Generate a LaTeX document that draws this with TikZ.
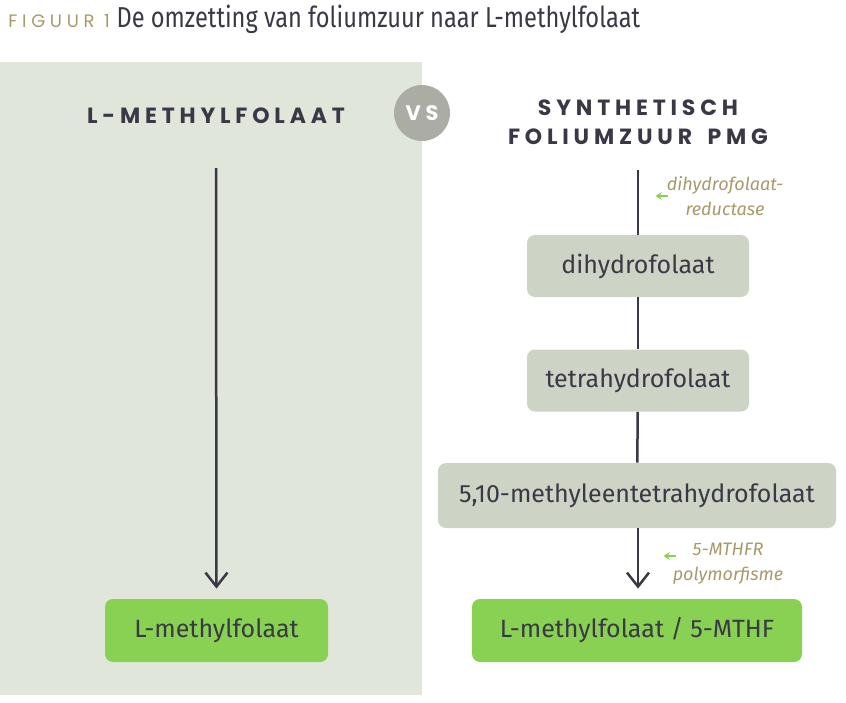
\documentclass[tikz,border=0pt]{standalone}
\usepackage{fontspec}
\setmainfont{Fira Sans}
\newfontfamily\headfont[LetterSpace=22]{Poppins}
\newfontfamily\figfont[LetterSpace=26]{Poppins}
\newfontfamily\titlefont[FakeStretch=0.82]{Fira Sans}
\usetikzlibrary{arrows.meta,positioning}

\definecolor{ink}{HTML}{3B3846}
\definecolor{gold}{HTML}{A8996A}
\definecolor{leaf}{HTML}{88D152}
\definecolor{panel}{HTML}{E1E6DB}
\definecolor{stepfill}{HTML}{CDD3C5}
\definecolor{vsgray}{HTML}{ABADA5}

\tikzset{
    stepbox/.style={fill=stepfill, rounded corners=4pt, text=ink,
        minimum width=111pt, minimum height=31pt, font=\fontsize{12.5}{14}\selectfont},
    endbox/.style={stepbox, fill=leaf, minimum height=31.5pt},
    header/.style={text=ink, align=center, font=\headfont\bfseries\fontsize{11}{14.5}\selectfont},
    enzyme/.style={text=gold, align=center, font=\itshape\fontsize{9}{12.5}\selectfont},
    flow/.style={draw=ink, line width=1.25pt},
    hint/.style={draw=leaf, line width=1pt, -{Stealth[length=3pt, width=4pt]}},
}

\begin{document}
\begin{tikzpicture}[x=0.5pt, y=-0.5pt]
    \useasboundingbox (0,0) rectangle (846,702);
    \fill[panel] (0,62) rectangle (422,695);

    % title
    \node[anchor=base west, inner sep=0pt, text=gold, font=\figfont\fontsize{9}{10}\selectfont] (fig) at (8,27) {FIGUUR 1};
    \node[anchor=base west, inner sep=0pt, text=ink, font=\titlefont\fontsize{14.4}{16}\selectfont] (title) at ([xshift=3pt]fig.base east) {De omzetting van foliumzuur naar L-methylfolaat};

    % headers
    \node[header] (lhead) at (216,116) {L-METHYLFOLAAT};
    \node[header] (rhead) at (638,122) {SYNTHETISCH\\FOLIUMZUUR\hspace{3pt} PMG};
    \node[circle, fill=vsgray, minimum size=28pt, inner sep=0pt, text=white,
        font=\headfont\bfseries\fontsize{10.5}{12}\selectfont] (vs) at (422,113) {VS};

    % left column
    \coordinate (ltop) at (216,168);
    \node[endbox, minimum width=111.5pt] (lend) at (216.5,630.5) {L-methylfolaat};
    \draw[flow, -{Straight Barb[length=7pt, width=11pt]}, shorten >=5pt] (ltop) -- (lend);

    % right column
    \coordinate (rtop) at (638,170);
    \node[stepbox] (dihy) at (638,266) {dihydrofolaat};
    \node[stepbox] (tetra) at (638,380.5) {tetrahydrofolaat};
    \node[stepbox, minimum width=199pt, minimum height=32.5pt] (methy) at (637,495.5) {5,10-methyleentetrahydrofolaat};
    \node[endbox, minimum width=165pt] (rend) at (637,630.5) {L-methylfolaat / 5-MTHF};
    \draw[flow] (rtop) -- (dihy);
    \draw[flow] (dihy) -- (tetra);
    \draw[flow] (tetra) -- (methy);
    \draw[flow, -{Straight Barb[length=7pt, width=11pt]}, shorten >=5pt] (methy.south -| rtop) -- (rend.north -| rtop);

    % enzymes
    \node[enzyme] (dhfr) at (725,196) {dihydrofolaat-\\reductase};
    \draw[hint] ([xshift=4pt]dhfr.west) -- ++(-12,0);
    \node[enzyme] (mthfr) at (728,564) {5-MTHFR\\polymorfisme};
    \draw[hint] ([xshift=5pt]mthfr.west |- 0,556) -- ++(-12,0);
\end{tikzpicture}
\end{document}
